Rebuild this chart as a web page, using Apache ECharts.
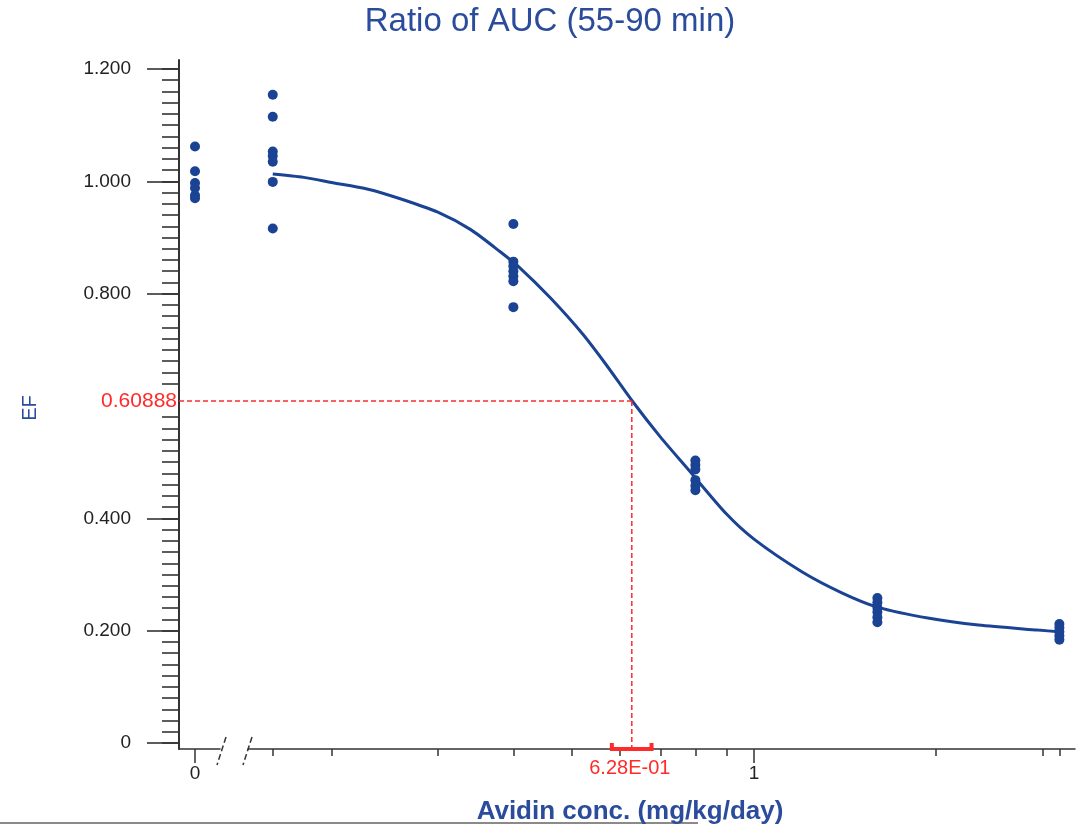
<!DOCTYPE html>
<html>
<head>
<meta charset="utf-8">
<script src="https://cdn.jsdelivr.net/npm/echarts@6/dist/echarts.min.js"></script>
<style>
html,body{margin:0;padding:0;background:#fff;}
#c{width:1079px;height:825px;}
</style>
</head>
<body>
<div id="c"></div>
<script>
// ---------- data ----------
const titleText = 'Ratio of AUC (55-90 min)';
const xName = 'Avidin conc. (mg/kg/day)';
const yName = 'EF';

// control group (dose 0, drawn on the separate "0" axis segment)
const zeroEF = [1.062, 1.018, 0.997, 0.988, 0.975, 0.970];

// dosed groups
const doses = [0.16, 0.4, 0.8, 1.6, 3.2];
const ef016 = [1.154, 1.115, 1.053, 1.045, 1.035, 0.999, 0.916];
const ef04  = [0.924, 0.857, 0.849, 0.840, 0.831, 0.822, 0.776];
const ef08  = [0.503, 0.495, 0.487, 0.468, 0.458, 0.450];
const ef16  = [0.258, 0.250, 0.241, 0.233, 0.224, 0.215];
const ef32  = [0.212, 0.205, 0.198, 0.191, 0.184];
const groupEF = [ef016, ef04, ef08, ef16, ef32];

// fitted curve
const curveX = [0.16, 0.18, 0.20, 0.23, 0.26, 0.30, 0.34, 0.38, 0.41, 0.46, 0.52, 0.57, 0.63, 0.70, 0.78, 0.90, 1.0, 1.2, 1.4, 1.6, 1.95, 2.35, 2.95, 3.2];
const curveY = [1.013, 1.007, 0.998, 0.986, 0.969, 0.945, 0.914, 0.875, 0.846, 0.793, 0.729, 0.673, 0.608, 0.545, 0.486, 0.408, 0.363, 0.305, 0.267, 0.242, 0.222, 0.210, 0.201, 0.198];

// EC50 marker
const ec50 = 0.628;
const ec50EF = 0.60888;
const ec50Lo = 0.582;
const ec50Hi = 0.677;
const ec50YLabel = '0.60888';
const ec50XLabel = '6.28E-01';

// ticks
const yMajor = [0, 0.2, 0.4, 0.6, 0.8, 1.0, 1.2];
const xMinorTicks = [0.16, 0.2, 0.3, 0.4, 0.5, 0.6, 0.7, 0.8, 0.9, 2, 3, 3.2];
const xMajorTicks = [1];

// ---------- layout ----------
const FONT = "'Liberation Sans', Arial, sans-serif";
const BLUE = '#1a4393';
const TBLUE = '#2b4c9c';
const RED = '#ff2a2a';
const AX = '#333';
const LEFT_A = 179, RIGHT_A = 220, LEFT_B = 248, RIGHT_PAD = 4;
const TOP = 60, BOTTOM_Y = 749;
const Y_MIN = -0.0107, Y_MAX = 1.216;

const yMinor = [];
for (let i = 0; i <= 60; i++) { yMinor.push(Math.round(i * 2) / 100); }

const chart = echarts.init(document.getElementById('c'), null, {renderer: 'canvas'});

const scatterSeries = [];
groupEF.forEach(function (arr, gi) {
  scatterSeries.push({
    type: 'scatter', xAxisIndex: 1, yAxisIndex: 2,
    symbol: 'circle', symbolSize: 10,
    itemStyle: {color: BLUE, opacity: 1},
    data: arr.map(function (v) { return [doses[gi], v]; }),
    z: 4
  });
});

const option = {
  backgroundColor: '#fff',
  animation: false,
  title: [
    {text: titleText, left: 545, textAlign: 'center', top: 0,
     textStyle: {fontFamily: FONT, fontSize: 33, fontWeight: 'normal', color: TBLUE}},
    {text: xName, left: 625, textAlign: 'center', top: 794,
     textStyle: {fontFamily: FONT, fontSize: 26, fontWeight: 'bold', color: TBLUE}}
  ],
  grid: [
    {left: LEFT_A, width: RIGHT_A - LEFT_A, top: TOP, height: BOTTOM_Y - TOP},
    {left: LEFT_B, right: RIGHT_PAD, top: TOP, height: BOTTOM_Y - TOP}
  ],
  xAxis: [
    {type: 'value', gridIndex: 0, min: -16, max: 25, position: 'bottom',
     splitLine: {show: false},
     axisLine: {onZero: false, lineStyle: {color: AX, width: 1.5}},
     axisTick: {customValues: [0], length: 14, lineStyle: {color: AX, width: 1.5}},
     axisLabel: {customValues: [0], margin: 15, color: '#222', fontFamily: FONT, fontSize: 19,
                 formatter: function (v) { return String(v); }}},
    {type: 'log', gridIndex: 1, min: 0.1456, max: 3.396, position: 'bottom',
     splitLine: {show: false},
     axisLine: {onZero: false, lineStyle: {color: AX, width: 1.5}},
     axisTick: {customValues: xMinorTicks, length: 7, lineStyle: {color: AX, width: 1.5}},
     axisLabel: {show: false}},
    {type: 'log', gridIndex: 1, min: 0.1456, max: 3.396, position: 'bottom',
     splitLine: {show: false},
     axisLine: {show: false, onZero: false},
     axisTick: {customValues: xMajorTicks, length: 14, lineStyle: {color: AX, width: 1.5}},
     axisLabel: {customValues: xMajorTicks, margin: 15, color: '#222', fontFamily: FONT, fontSize: 19,
                 formatter: function (v) { return String(v); }}}
  ],
  yAxis: [
    {type: 'value', gridIndex: 0, min: Y_MIN, max: Y_MAX, position: 'left',
     splitLine: {show: false},
     axisLine: {show: true, onZero: false, lineStyle: {color: AX, width: 2}},
     axisTick: {customValues: yMinor, length: 17, lineStyle: {color: AX, width: 1.6}},
     axisLabel: {show: false}},
    {type: 'value', gridIndex: 0, min: Y_MIN, max: Y_MAX, position: 'left', offset: 0,
     splitLine: {show: false},
     axisLine: {show: false, onZero: false},
     axisTick: {customValues: yMajor, length: 32, lineStyle: {color: AX, width: 1.6}},
     axisLabel: {customValues: yMajor, margin: 48, color: '#222', fontFamily: FONT, fontSize: 19,
                 formatter: function (v) { return v === 0 ? '0' : v.toFixed(3); }}},
    {type: 'value', gridIndex: 1, min: Y_MIN, max: Y_MAX, show: false, splitLine: {show: false},
     axisLine: {onZero: false}}
  ],
  graphic: [
    {type: 'text', x: 30, y: 408, rotation: Math.PI / 2,
     style: {text: yName, fill: TBLUE, font: '20px ' + FONT, align: 'center', verticalAlign: 'middle'}},
    {type: 'line', shape: {x1: 226, y1: 737, x2: 217, y2: 765},
     style: {stroke: AX, lineWidth: 1.5, lineDash: [6, 3]}},
    {type: 'line', shape: {x1: 252, y1: 737, x2: 243, y2: 765},
     style: {stroke: AX, lineWidth: 1.5, lineDash: [6, 3]}},
    {type: 'rect', shape: {x: 0, y: 822, width: 698, height: 2}, style: {fill: '#8a8a8a'}}
  ],
  series: [
    {type: 'scatter', xAxisIndex: 0, yAxisIndex: 0, symbol: 'circle', symbolSize: 10,
     itemStyle: {color: BLUE, opacity: 1},
     data: zeroEF.map(function (v) { return [0, v]; }), z: 4},
    {type: 'line', xAxisIndex: 1, yAxisIndex: 2, smooth: 0.25, showSymbol: false,
     lineStyle: {color: BLUE, width: 3},
     data: curveX.map(function (x, i) { return [x, curveY[i]]; }), z: 3},
    {type: 'custom', xAxisIndex: 1, yAxisIndex: 2, z: 10, clip: false,
     data: [[ec50, ec50EF, ec50Lo, ec50Hi]],
     renderItem: function (params, api) {
       const p = api.coord([api.value(0), api.value(1)]);
       const lo = api.coord([api.value(2), api.value(1)])[0];
       const hi = api.coord([api.value(3), api.value(1)])[0];
       const cs = params.coordSys;
       const base = cs.y + cs.height;
       return {type: 'group', children: [
         {type: 'line', shape: {x1: LEFT_A, y1: p[1], x2: p[0], y2: p[1]},
          style: {stroke: RED, lineWidth: 1.5, lineDash: [5, 3]}},
         {type: 'line', shape: {x1: p[0], y1: p[1], x2: p[0], y2: base},
          style: {stroke: RED, lineWidth: 1.5, lineDash: [5, 3]}},
         {type: 'polyline', shape: {points: [[lo, base - 6], [lo, base], [hi, base], [hi, base - 6]]},
          style: {stroke: RED, lineWidth: 4, fill: null}},
         {type: 'text', x: LEFT_A - 1, y: p[1],
          style: {text: ec50YLabel, fill: RED, font: '21px ' + FONT, align: 'right', verticalAlign: 'middle',
                  backgroundColor: '#fff', padding: [2, 1, 2, 20]}},
         {type: 'text', x: p[0] - 2, y: base + 9,
          style: {text: ec50XLabel, fill: RED, font: '20px ' + FONT, align: 'center', verticalAlign: 'top'}}
       ]};
     }}
  ].concat(scatterSeries)
};
chart.setOption(option);
</script>
</body>
</html>
